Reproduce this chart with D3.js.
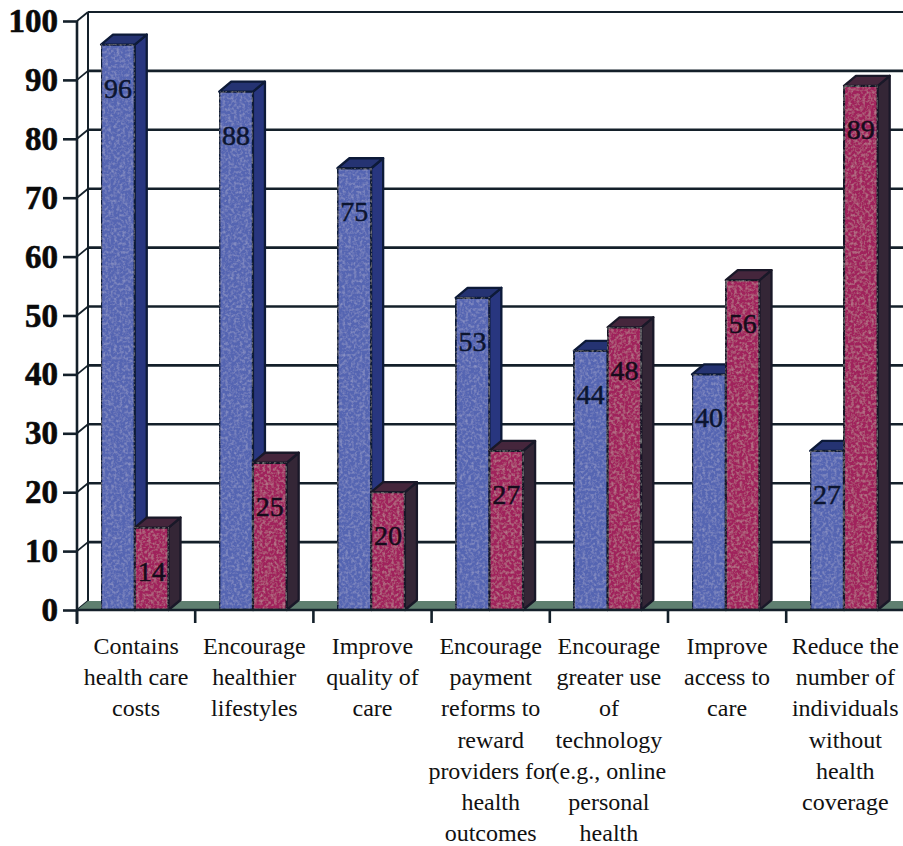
<!DOCTYPE html>
<html><head><meta charset="utf-8">
<script src="https://cdn.jsdelivr.net/npm/d3@7/dist/d3.min.js"></script>
<style>html,body{margin:0;padding:0;background:#fff;overflow:hidden}svg{display:block}</style>
</head><body><svg id="c" width="903" height="846"></svg>
<script>
const categories = [
  ["Contains","health care","costs"],
  ["Encourage","healthier","lifestyles"],
  ["Improve","quality of","care"],
  ["Encourage","payment","reforms to","reward","providers for","health","outcomes"],
  ["Encourage","greater use","of","technology","(e.g., online","personal","health"],
  ["Improve","access to","care"],
  ["Reduce the","number of","individuals","without","health","coverage"]
];
const blueValues = [96,88,75,53,44,40,27];
const redValues = [14,25,20,27,48,56,89];
const yTicks = [0,10,20,30,40,50,60,70,80,90,100];

const W=903,H=846,ink="#14202a";
const x0=77,step=118.2,dx=11,dy=9,barDx=12,barDy=10;
const y=d3.scaleLinear().domain([0,100]).range([610,21]);
const x=d3.scaleBand().domain(d3.range(categories.length)).range([x0,x0+step*categories.length]);
const bar=d3.scaleBand().domain(["blue","red"]).range([24,24+67.5]);
const svg=d3.select("#c");

const defs=svg.append("defs");
const f=defs.append("filter").attr("id","grain").attr("x",0).attr("y",0).attr("width","100%").attr("height","100%");
f.append("feTurbulence").attr("type","fractalNoise").attr("baseFrequency",0.35).attr("numOctaves",2).attr("seed",4).attr("result","n");
f.append("feColorMatrix").attr("in","n").attr("type","matrix").attr("values","0 0 0 0 1  0 0 0 0 1  0 0 0 0 1  0.4 0 0 0 -0.17").attr("result","w");
f.append("feComposite").attr("in","w").attr("in2","SourceAlpha").attr("operator","in").attr("result","c");
f.append("feMerge").selectAll("feMergeNode").data(["SourceGraphic","c"]).join("feMergeNode").attr("in",d=>d);

// back wall edge, gridlines, side-wall connectors
const grid=svg.append("g").attr("stroke",ink).attr("fill","none");
grid.append("line").attr("x1",x0+dx).attr("x2",x0+dx).attr("y1",y(0)-dy).attr("y2",y(100)-dy).attr("stroke-width",2);
grid.selectAll(".g").data(yTicks.filter(d=>d>0)).join("line").attr("class","g")
  .attr("x1",x0+dx).attr("x2",W).attr("y1",d=>y(d)-dy).attr("y2",d=>y(d)-dy)
  .attr("stroke-width",d=>d===100?1.8:2.6);
grid.selectAll(".c").data(yTicks).join("line").attr("class","c")
  .attr("x1",x0).attr("x2",x0+dx).attr("y1",d=>y(d)).attr("y2",d=>y(d)-dy).attr("stroke-width",1.8);

// floor
svg.append("path").attr("fill","#5f7f70").attr("stroke","none")
  .attr("d",`M${x0},${y(0)}L${x0+dx},${y(0)-dy}L${W},${y(0)-dy}L${W},${y(0)}Z`);

// bars
const series=[
 {key:"blue",values:blueValues,front:"#5565b2",side:"#28367f",top:"#253372",edge:"#0d1a38"},
 {key:"red",values:redValues,front:"#a0235b",side:"#342636",top:"#45263c",edge:"#191828"}
];
const bw=bar.bandwidth();
categories.forEach((c,i)=>{
  series.forEach(s=>{
    const v=s.values[i],l=x(i)+bar(s.key),r=l+bw,t=y(v),b=y(0);
    const g=svg.append("g").attr("stroke",s.edge).attr("stroke-width",2.3).attr("stroke-linejoin","round");
    g.append("path").attr("fill",s.side).attr("d",`M${r},${t}L${r+barDx},${t-barDy}L${r+barDx},${b-barDy}L${r},${b}Z`);
    g.append("path").attr("fill",s.top).attr("d",`M${l},${t}L${l+barDx},${t-barDy}L${r+barDx},${t-barDy}L${r},${t}Z`);
    g.append("rect").attr("x",l).attr("y",t).attr("width",bw).attr("height",b-t).attr("fill",s.front).attr("filter","url(#grain)");
  });
});
// value labels
categories.forEach((c,i)=>{
  series.forEach(s=>{
    const v=s.values[i];
    const col=s.key==="blue"?"#0c1530":"#160c1c";
    svg.append("text").attr("x",x(i)+bar(s.key)+bw/2).attr("y",y(v)+53)
      .attr("text-anchor","middle").attr("font-family","Liberation Serif").attr("font-size",28)
      .attr("fill",col).attr("stroke",col).attr("stroke-width",0.5).text(v);
  });
});

// axes
const yAxis=d3.axisLeft(y).tickValues(yTicks).tickSize(14).tickPadding(5).tickFormat(d3.format("d"));
const ya=svg.append("g").attr("transform",`translate(${x0},0)`).call(yAxis);
ya.selectAll("path,line").attr("stroke",ink).attr("stroke-width",2.6);
ya.select(".domain").attr("d",`M0,${y(100)}V${y(0)+14}`);
ya.selectAll("text").attr("font-family","Liberation Serif").attr("font-weight","bold").attr("font-size",33).attr("fill","#0a0a0a").attr("stroke","#0a0a0a").attr("stroke-width",0.6).attr("dy","0.32em");

const xb=svg.append("g").attr("transform",`translate(0,${y(0)})`);
xb.append("line").attr("x1",x0).attr("x2",W).attr("stroke",ink).attr("stroke-width",2.6);
xb.selectAll("line.t").data(d3.range(categories.length+1)).join("line").attr("class","t")
  .attr("x1",i=>x0+i*step).attr("x2",i=>x0+i*step).attr("y1",0).attr("y2",13).attr("stroke",ink).attr("stroke-width",2.6);

// category labels
categories.forEach((lines,i)=>{
  svg.append("text").attr("text-anchor","middle").attr("font-family","Liberation Serif").attr("font-size",24).attr("fill","#111")
    .selectAll("tspan").data(lines).join("tspan")
    .attr("x",x(i)+x.bandwidth()/2).attr("y",(d,k)=>654+k*31.2).text(d=>d);
});
</script></body></html>
